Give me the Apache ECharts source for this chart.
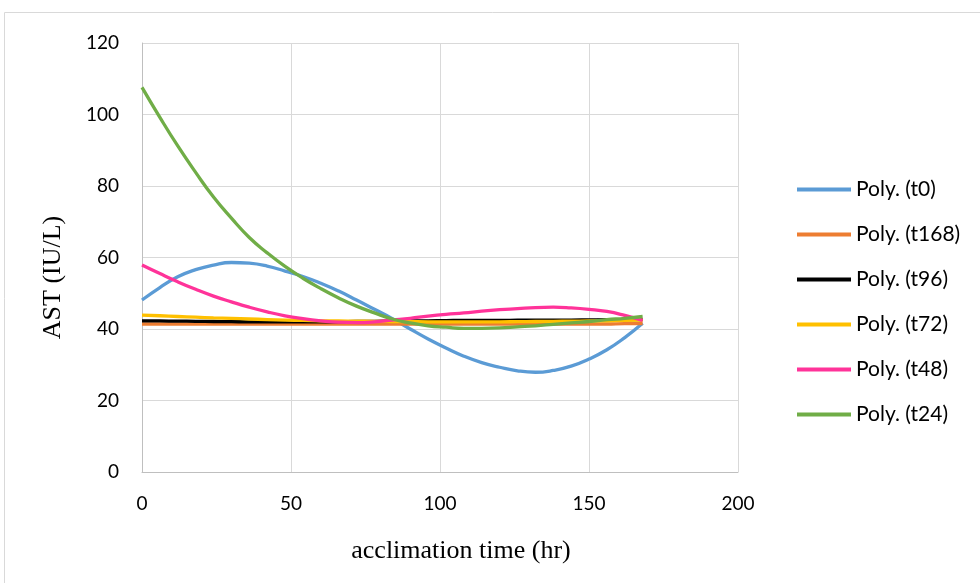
<!DOCTYPE html>
<html>
<head>
<meta charset="utf-8">
<script src="https://cdn.jsdelivr.net/npm/echarts@6/dist/echarts.min.js"></script>
<style>
  html, body { margin: 0; padding: 0; background: #fff; }
  #chart { width: 980px; height: 583px; }
</style>
</head>
<body>
<div id="chart"></div>
<script>
// acclimation time (hr) at which the trend lines were read
const hours = [0, 6, 12, 18, 24, 30, 36, 42, 48, 54, 60, 66, 72, 78, 84, 90, 96, 102, 108, 114, 120, 126, 132, 138, 144, 150, 156, 162, 168];

// AST (IU/L)
const t0   = [48.1, 51.6, 54.6, 56.6, 57.9, 58.6, 58.4, 57.6, 56.2, 54.7, 52.8, 50.6, 48.1, 45.5, 42.9, 40.0, 37.2, 34.7, 32.4, 30.6, 29.3, 28.3, 27.9, 28.4, 29.6, 31.6, 34.2, 37.6, 41.6];
const t168 = [41.4, 41.4, 41.4, 41.4, 41.4, 41.4, 41.4, 41.4, 41.4, 41.4, 41.4, 41.4, 41.4, 41.4, 41.4, 41.4, 41.4, 41.4, 41.4, 41.4, 41.4, 41.4, 41.4, 41.4, 41.4, 41.4, 41.4, 41.5, 41.5];
const t96  = [42.3, 42.25, 42.2, 42.15, 42.1, 42.05, 42.0, 42.0, 42.0, 42.0, 42.0, 42.05, 42.1, 42.15, 42.2, 42.25, 42.3, 42.35, 42.4, 42.4, 42.4, 42.45, 42.5, 42.5, 42.5, 42.55, 42.6, 42.6, 42.6];
const t72  = [43.9, 43.7, 43.5, 43.3, 43.1, 42.95, 42.8, 42.65, 42.5, 42.4, 42.3, 42.25, 42.2, 42.15, 42.1, 42.05, 42.0, 42.0, 42.0, 42.0, 42.0, 42.05, 42.1, 42.15, 42.2, 42.25, 42.3, 42.4, 42.5];
const t48  = [57.9, 55.5, 53.2, 51.1, 49.2, 47.6, 46.1, 44.8, 43.7, 42.9, 42.3, 41.9, 41.8, 42.0, 42.5, 43.0, 43.6, 44.1, 44.5, 45.0, 45.4, 45.7, 46.0, 46.1, 45.9, 45.5, 44.9, 43.8, 42.4];
const t24  = [107.6, 99.2, 91.2, 83.8, 76.9, 71.0, 65.6, 61.3, 57.5, 54.2, 51.3, 48.7, 46.4, 44.5, 42.8, 41.7, 40.9, 40.5, 40.2, 40.2, 40.3, 40.6, 40.9, 41.3, 41.7, 42.1, 42.6, 43.0, 43.5];

const names  = ['Poly. (t0)', 'Poly. (t168)', 'Poly. (t96)', 'Poly. (t72)', 'Poly. (t48)', 'Poly. (t24)'];
const values = [t0, t168, t96, t72, t48, t24];
const colors = ['#5B9BD5', '#ED7D31', '#000000', '#FFC000', '#FF3399', '#70AD47'];

const chart = echarts.init(document.getElementById('chart'));

chart.setOption({
    animation: false,
    color: colors,
    graphic: [{
        type: 'rect',
        shape: { x: 4.5, y: 12.5, width: 990, height: 580 },
        style: { fill: 'none', stroke: '#d9d9d9', lineWidth: 1 },
        silent: true
    }],
    grid: { left: 142, right: 242, top: 43, bottom: 111 },
    legend: {
        orient: 'vertical',
        left: 792,
        top: 174,
        icon: 'rect',
        itemWidth: 54,
        itemHeight: 4,
        itemGap: 24,
        data: names,
        textStyle: { fontFamily: 'Lato', fontSize: 21, color: '#000', lineHeight: 21 }
    },
    xAxis: {
        type: 'value',
        min: 0,
        max: 200,
        interval: 50,
        name: 'acclimation time (hr)',
        nameLocation: 'middle',
        nameGap: 66,
        nameTextStyle: { fontFamily: 'Liberation Serif', fontSize: 26, color: '#000', padding: [0, 0, 0, 42] },
        axisLine: { lineStyle: { color: '#bfbfbf', width: 1 } },
        axisTick: { show: false },
        axisLabel: { fontFamily: 'Lato', fontSize: 19, color: '#000', margin: 22 },
        splitLine: { lineStyle: { color: '#d9d9d9', width: 1 } }
    },
    yAxis: {
        type: 'value',
        min: 0,
        max: 120,
        interval: 20,
        name: 'AST (IU/L)',
        nameLocation: 'middle',
        nameGap: 76,
        nameTextStyle: { fontFamily: 'Liberation Serif', fontSize: 26, color: '#000', padding: [0, 40, 0, 0] },
        axisLine: { show: true, lineStyle: { color: '#bfbfbf', width: 1 } },
        axisTick: { show: false },
        axisLabel: { fontFamily: 'Lato', fontSize: 19, color: '#000', margin: 23 },
        splitLine: { lineStyle: { color: '#d9d9d9', width: 1 } }
    },
    series: names.map((n, i) => ({
        name: n,
        type: 'line',
        smooth: true,
        showSymbol: false,
        lineStyle: { width: 3.3, color: colors[i] },
        data: hours.map((h, k) => [h, values[i][k]])
    }))
});
</script>
</body>
</html>
